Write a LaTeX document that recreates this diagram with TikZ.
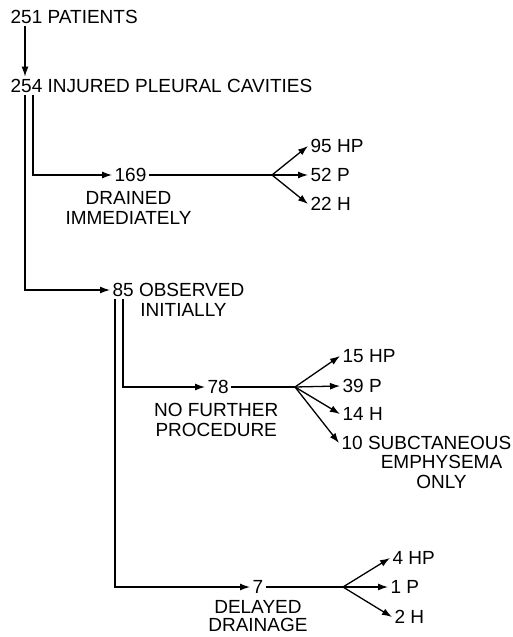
\documentclass[tikz,border=0pt]{standalone}
\usepackage{fontspec}
\setmainfont{Liberation Sans}
\usetikzlibrary{positioning,arrows.meta}

\begin{document}
\begin{tikzpicture}[x=1pt, y=-1pt, node distance=4pt, line width=1.3pt, >={Latex[length=10pt,width=7pt]},
  every node/.style={font=\fontsize{19}{20}\selectfont, inner sep=2pt, align=center},
  lbl/.style={anchor=west}]
  \useasboundingbox (0,0) rectangle (512,637);

  \node[lbl] (patients) at (8,17) {251 PATIENTS};
  \node[lbl] (cavities) at (8,86) {254 INJURED PLEURAL CAVITIES};
  \draw[->] ([xshift=17pt]patients.south west) -- ([xshift=17pt]cavities.north west);

  % drained immediately
  \node[lbl] (drained) at (112,175) {169};
  \node (drainedtxt) [below=of drained, xshift=-2pt] {DRAINED\\IMMEDIATELY};
  \coordinate (forkA) at (272,175);
  \node[lbl] (drainedHP) at (308,146) {95 HP};
  \node[lbl] (drainedP) at (308,175) {52 P};
  \node[lbl] (drainedH) at (308,204) {22 H};
  \draw[->] ([xshift=25pt]cavities.south west) |- (drained.west);
  \draw (drained) -- (forkA);
  \draw[->] (forkA) -- (drainedHP.west);
  \draw[->] (forkA) -- (drainedP.west);
  \draw[->] (forkA) -- (drainedH.west);

  % observed initially
  \node[lbl] (observed) at (110,290) {85 OBSERVED};
  \node (observedtxt) [below=1pt of observed, xshift=5pt] {INITIALLY};
  \draw[->] ([xshift=17pt]cavities.south west) |- (observed.west);

  % no further procedure
  \node[lbl] (further) at (205,387) {78};
  \node (furthertxt) [below=of further, xshift=-2pt] {NO FURTHER\\PROCEDURE};
  \coordinate (forkB) at (295,387);
  \node[lbl] (furtherHP) at (340,356) {15 HP};
  \node[lbl] (furtherP) at (340,386) {39 P};
  \node[lbl] (furtherH) at (340,414) {14 H};
  \node[lbl] (furtherSE) at (339,443) {10 SUBCTANEOUS};
  \node (furtherSEtxt) [below=0pt of furtherSE, xshift=15pt] {EMPHYSEMA\\ONLY};
  \draw[->] ([xshift=13pt]observed.south west) |- (further.west);
  \draw (further) -- (forkB);
  \draw[->] (forkB) -- (furtherHP.west);
  \draw[->] (forkB) -- (furtherP.west);
  \draw[->] (forkB) -- (furtherH.west);
  \draw[->] (forkB) -- (furtherSE.west);

  % delayed drainage
  \node[lbl] (delayed) at (250,587) {7};
  \node (delayedtxt) [below=4pt of delayed, inner sep=0pt, font=\fontsize{19}{18}\selectfont] {DELAYED\\DRAINAGE};
  \coordinate (forkC) at (343,587);
  \node[lbl] (delayedHP) at (390,558) {4 HP};
  \node[lbl] (delayedP) at (388,587) {1 P};
  \node[lbl] (delayedH) at (392,617) {2 H};
  \draw[->] ([xshift=5pt]observed.south west) |- (delayed.west);
  \draw (delayed) -- (forkC);
  \draw[->] (forkC) -- (delayedHP.west);
  \draw[->] (forkC) -- (delayedP.west);
  \draw[->] (forkC) -- (delayedH.west);
\end{tikzpicture}
\end{document}
